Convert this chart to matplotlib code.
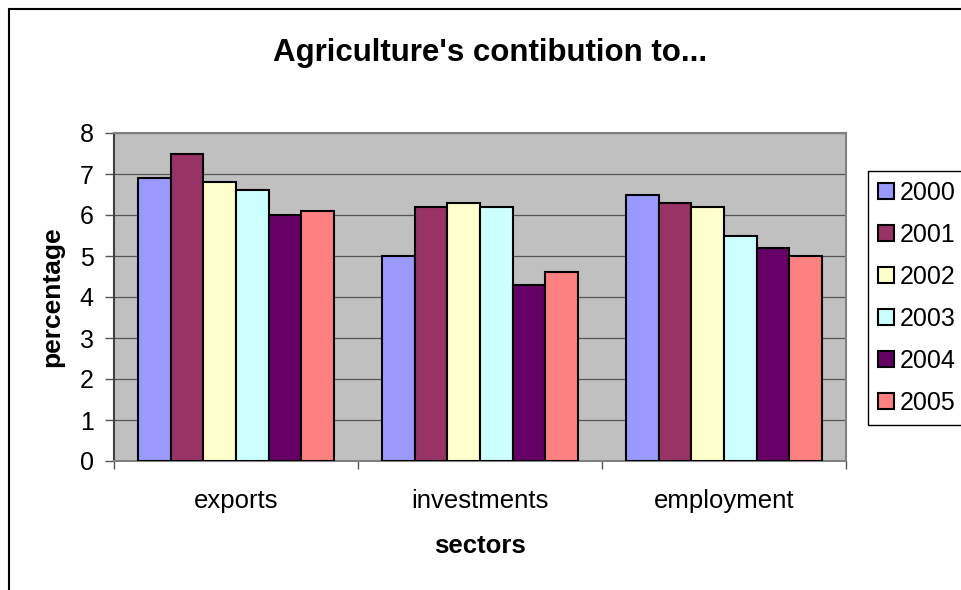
import numpy as np
import matplotlib
matplotlib.use("Agg")
import matplotlib.pyplot as plt
from matplotlib.patches import Rectangle

plt.rcParams['font.family'] = ['Liberation Sans', 'DejaVu Sans']

# datos
sectores = ['exports', 'investments', 'employment']
anios = ['2000', '2001', '2002', '2003', '2004', '2005']
v2000 = [6.9, 5.0, 6.5]
v2001 = [7.5, 6.2, 6.3]
v2002 = [6.8, 6.3, 6.2]
v2003 = [6.6, 6.2, 5.5]
v2004 = [6.0, 4.3, 5.2]
v2005 = [6.1, 4.6, 5.0]
colores = ['#9999FF', '#993366', '#FFFFCC', '#CCFFFF', '#660066', '#FF8080']

series = [v2000, v2001, v2002, v2003, v2004, v2005]

fig = plt.figure(figsize=(9.61, 5.90), dpi=100)
ax = fig.add_axes([114/961, 1-461/590, 732/961, 328/590])
ax.set_facecolor('#C0C0C0')

x = np.arange(len(sectores))
w = 1/7.5
for j, (vals, c) in enumerate(zip(series, colores)):
    ax.bar(x + (j - 2.5)*w, vals, width=w, color=c, edgecolor='black',
           linewidth=1.5, label=anios[j], zorder=3)

ax.set_xlim(-0.5, 2.5)
ax.set_ylim(0, 8)
ax.set_yticks(range(0, 9))
ax.yaxis.grid(True, color='#555555', linewidth=0.9, zorder=1)
ax.tick_params(axis='y', length=6.5, width=1, color='#555555', pad=8, labelsize=18)

# etiquetas de categoria al centro, marcas en los limites
ax.set_xticks(x)
ax.set_xticklabels(sectores)
ax.tick_params(axis='x', which='major', length=0, pad=20, labelsize=18.5)
ax.set_xticks([-0.5, 0.5, 1.5, 2.5], minor=True)
ax.tick_params(axis='x', which='minor', length=6, width=1, color='#555555')

for s in ['top', 'right', 'bottom']:
    ax.spines[s].set_color('#808080')
    ax.spines[s].set_linewidth(1.5)
ax.spines['left'].set_color('#404040')
ax.spines['left'].set_linewidth(1.5)

fig.text(490/961, 1-61/590, "Agriculture's contibution to...", ha='center',
         va='baseline', fontsize=22.5, fontweight='bold')
fig.text(480/961, 1-546/590, 'sectors', ha='center', va='center',
         fontsize=18.5, fontweight='bold')
fig.text(52/961, 1-297/590, 'percentage', ha='center', va='center',
         rotation=90, fontsize=19, fontweight='bold')

leg = ax.legend(loc='upper left', bbox_to_anchor=(868/961, 1-171/590),
                bbox_transform=fig.transFigure, borderaxespad=0,
                fontsize=18, handlelength=0.63, handleheight=0.63,
                handletextpad=0.25, labelspacing=0.72, borderpad=0.4,
                fancybox=False, framealpha=1)
leg.get_frame().set_edgecolor('black')
leg.get_frame().set_linewidth(1)

# marco del grafico
fig.add_artist(Rectangle((8.5/961, -0.1), 1.2, 1.1 - 8.5/590,
                         transform=fig.transFigure, fill=False,
                         edgecolor='black', linewidth=1.5))

fig.savefig('out.png', dpi=100)
